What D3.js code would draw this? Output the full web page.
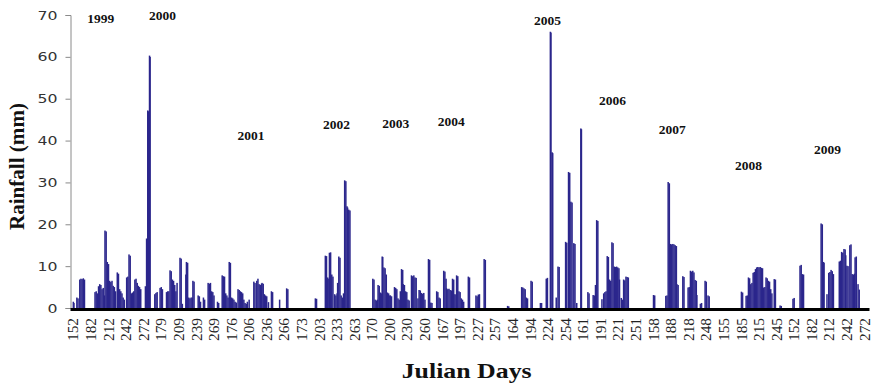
<!DOCTYPE html>
<html lang="en">
<head>
  <meta charset="UTF-8">
  <style>
    body { margin: 0; background: #fff; }
    .bar { fill: #2b268c; }
    .y-axis text { font-family: "DejaVu Sans", sans-serif; font-size: 12.5px; fill: #333; }
    .x-axis text { font-family: "Liberation Serif", serif; font-size: 14px; fill: #222; }
    .title { font-family: "Liberation Serif", serif; font-weight: bold; font-size: 21px; fill: #111; }
    .year { font-family: "Liberation Serif", serif; font-weight: bold; font-size: 13px; fill: #111; }
  </style>
</head>
<body>
  <svg class="chart"></svg>
  <script src="https://cdnjs.cloudflare.com/ajax/libs/d3/7.8.5/d3.min.js"></script>
  <script>
    // monsoon season, Julian day 152 - 274 for every year
    const years = [1999, 2000, 2001, 2002, 2003, 2004, 2005, 2006, 2007, 2008, 2009]
    const firstDay = 152
    const lastDay = 274
    const tickEvery = 30
    const yTicks = [0, 10, 20, 30, 40, 50, 60, 70]

    // [julian day, rainfall mm], days without rain left out
    const rain1999 = [[152,1.5],[153,1.2],[158,2.5],[160,2.3],[163,6.8],[165,7],[167,6.9],[169,7.1],[171,6.8],
      [189,3.8],[191,4],[193,3.5],[195,5.2],[197,5.7],[199,5.5],[201,4.5],[203,4.8],[205,3],
      [206,18.5],[208,18.3],[210,11],[212,10.5],[214,6.5],[216,6.2],[218,6.5],[220,5.3],[222,5],[224,4],
      [227,8.5],[229,8.2],[231,4.5],[233,4],[235,3.5],[237,2.5],[239,2],[243,7.3],[245,7.5],[247,12.8],[249,12.5],
      [251,3.5],[253,3.7],[255,4],[257,6.8],[259,7],[261,6],[263,5.3],[265,5],[267,4.5]]
    const rain2000 = [[152,5.2],[154,16.6],[155,16.5],[156,47.2],[157,47],[159,60.3],[160,60],
      [168,3.3],[170,3.6],[172,3.8],[177,4.8],[179,5],[181,4.5],[188,3.8],[190,4],[192,4],
      [194,9],[196,8.8],[198,6.8],[200,6.5],[202,5.5],[204,4],[206,6],[211,12],[213,11.8],[215,1],
      [221,8],[222,11],[224,10.8],[226,2.5],[228,2.3],[230,2.5],[232,2.5],[233,6.5],[235,6.3],
      [242,3],[244,2.8],[246,1.5],[251,2.5],[253,2],[259,6],[261,5.8],[263,6],[265,4],[267,3.8],[269,3]]
    const rain2001 = [[152,1.5],[154,1.2],[160,7.8],[162,7.6],[164,7.5],[166,3.5],[168,3],[170,2.5],[172,11],[174,10.8],
      [176,2.5],[178,2.3],[180,2],[182,1.5],[184,1.3],[187,4.5],[189,4.3],[191,4],[193,3.8],[195,3.5],[197,2],
      [199,1.2],[201,1],[203,1.5],[206,2],[214,6.3],[216,6],[219,6.5],[221,7],[223,5.7],[225,5.5],[227,5.8],
      [228,6],[230,5.8],[232,3.3],[234,3],[236,2.8],[239,1.4],[244,4],[246,3.8],[258,2],[270,4.7],[272,4.5]]
    const rain2002 = [[196,2.3],[198,2.2],[213,12.5],[215,12.4],[217,7.3],[219,7],[220,13.2],[222,13.3],[224,8],[226,7.5],
      [229,3.3],[231,3],[233,3.5],[234,6],[236,12.3],[238,12],[240,3],[242,2.5],[244,3.5],
      [246,30.5],[248,30.3],[250,24.3],[251,24],[253,23.5],[255,23.3]]
    const rain2003 = [[171,7],[173,6.8],[175,2],[177,1.8],[179,2],[180,5.5],[182,5.3],[184,3.7],[186,3.5],[187,12.3],[188,12.2],
      [190,9.7],[192,9.5],[194,8],[196,3.7],[198,3.5],[200,3],[201,3],[203,2.8],[208,5],[210,4.8],[212,4.5],
      [214,2.3],[216,2],[218,4],[220,9.3],[222,9.1],[223,5.7],[225,5.5],[227,4],[229,3.8],[231,2],[233,1.8],
      [237,7.8],[239,7.6],[241,7.8],[243,7.3],[245,7.2],[248,2.3],[250,4.3],[252,4.2],[254,3.6],[256,3.4],[258,3.6],
      [260,2],[266,11.7],[268,11.5],[270,1.3],[272,1.2]]
    const rain2004 = [[157,4],[159,3.8],[161,2.5],[163,2.3],[169,8.9],[171,8.7],[173,7],[174,4.7],[176,4.5],[178,4.6],
      [180,4.3],[182,4.2],[184,7],[186,6.8],[188,3.3],[190,3.2],[191,7.8],[193,7.6],[195,4],[197,3.8],
      [199,2.3],[201,2],[203,1.5],[211,7.5],[213,7.3],[224,3],[226,2.8],[228,3.2],[230,3.3],[238,11.7],[240,11.5]]
    const rain2005 = [[155,0.5],[157,0.4],[179,5],[181,4.9],[183,4.7],[185,4.5],[187,2.5],[189,2.3],[195,6.5],[197,6.3],
      [211,1.2],[213,1.2],[221,7],[223,7.2],[228,66],[229,65.8],[231,37.2],[232,37],
      [238,2.5],[241,9.9],[243,9.8],[254,15.8],[256,15.6],[259,32.5],[261,32.3],[263,25.4],[265,25.2],
      [268,15.5],[270,15.3],[273,1.2]]
    const rain2006 = [[157,42.9],[158,42.7],[169,3.8],[171,3.5],[178,3.1],[180,3],[182,5.5],[184,21],[186,20.8],
      [193,2.1],[196,3.5],[198,3.8],[200,4],[202,12.4],[204,12.2],[206,6.8],[208,6.5],[210,15.7],[212,15.5],
      [214,9.9],[216,9.8],[218,9.9],[220,9.7],[222,9.5],[223,6.8],[226,2.4],[228,2],[230,6.8],[232,6.6],
      [234,7.5],[236,7.4],[238,7.3]]
    const rain2007 = [[158,3.1],[160,3],[179,2.9],[181,3],[183,30.1],[185,29.8],[187,15.3],[189,15.2],[191,15.3],[193,15.2],
      [195,15],[197,14.8],[198,5.7],[200,5.5],[208,7.6],[210,7.4],[217,4.9],[219,5],[221,8.9],[223,8.7],
      [225,8.9],[227,8.5],[229,6.7],[231,6.5],[232,3.1],[238,1],[240,1.2],[246,6.5],[248,6.3],[251,3],[253,2.8]]
    const rain2008 = [[185,3.9],[187,3.7],[193,2.9],[195,3],[197,7.3],[199,7.1],[201,5.7],[203,6],[205,8.4],[207,8.6],
      [209,9.3],[211,9.7],[213,9.8],[215,9.7],[217,9.8],[219,9.6],[221,9.5],[223,4.9],[225,5],[227,7.3],[229,7.1],
      [231,6.5],[233,6.3],[235,4.5],[237,3.5],[241,6.9],[243,6.8],[251,0.6],[253,0.5],[273,2.2]]
    const rain2009 = [[152,2.4],[162,10.1],[164,10.3],[166,8.1],[168,8],[198,20.2],[200,20],[202,11],[203,10.8],[208,3.3],
      [211,8.4],[213,8.6],[215,9.1],[217,8.8],[219,8.1],[229,11.1],[231,11.3],[233,13.4],[235,13.2],[237,14.1],[239,14],
      [240,12.6],[242,10.1],[244,10],[247,15],[249,15.2],[251,8.1],[253,8],[255,8.2],[256,12.1],[258,12.3],[261,5.7],[263,4.4]]
    const rainByYear = [rain1999, rain2000, rain2001, rain2002, rain2003, rain2004,
      rain2005, rain2006, rain2007, rain2008, rain2009]

    // where each year label sits, in chart units (day of that year, mm)
    const yearLabelDay = [199, 181, 209, 232, 210, 182, 223, 211, 190, 197, 209]
    const yearLabelMm = [68.2, 68.8, 40.1, 42.8, 43.0, 43.4, 67.7, 48.4, 41.5, 32.9, 36.9]

    const chart = { width: 880, height: 384 }
    const barW = 1.5

    const keys = []
    years.forEach(yr => {
      for (let d = firstDay; d <= lastDay; d++) keys.push(yr + '-' + d)
    })

    const x = d3.scaleBand().domain(keys).range([70, 869]).paddingOuter(5.2)
    const y = d3.scaleLinear().domain([0, 70]).range([308, 15])

    const svg = d3.select('.chart')
      .attr('width', chart.width)
      .attr('height', chart.height)

    const bars = []
    rainByYear.forEach((arr, k) => {
      arr.forEach(([day, mm]) => bars.push({ key: years[k] + '-' + day, mm: mm }))
    })

    svg.selectAll('rect.bar')
      .data(bars)
      .enter().append('rect')
        .attr('class', 'bar')
        .attr('x', d => x(d.key) + x.bandwidth() / 2 - barW / 2)
        .attr('y', d => y(d.mm))
        .attr('width', barW)
        .attr('height', d => y(0) - y(d.mm))

    // y axis
    const gy = svg.append('g')
      .attr('class', 'y-axis')
      .attr('transform', 'translate(70.5,0)')
      .call(d3.axisLeft(y).tickValues(yTicks).tickSize(5).tickPadding(8))
    gy.select('.domain').attr('stroke', '#8a8a8a')
    gy.selectAll('.tick line').attr('stroke', '#8a8a8a')
    gy.selectAll('.tick text')
      .attr('textLength', d => String(d).length * 10)
      .attr('lengthAdjust', 'spacingAndGlyphs')

    // x axis, thick black baseline, labels every 30 days
    const gx = svg.append('g')
      .attr('class', 'x-axis')
      .attr('transform', 'translate(0,309)')
      .call(d3.axisBottom(x)
        .tickValues(keys.filter((k, i) => i % tickEvery === 0))
        .tickFormat(k => k.split('-')[1])
        .tickSize(0))
    gx.select('.domain').attr('stroke', '#000').attr('stroke-width', 3)
    gx.selectAll('.tick text')
      .attr('transform', 'rotate(-90)')
      .attr('x', -9)
      .attr('y', 0)
      .attr('dy', '0.35em')
      .attr('text-anchor', 'end')
      .attr('textLength', 23)
      .attr('lengthAdjust', 'spacingAndGlyphs')

    // year labels
    svg.selectAll('text.year')
      .data(years)
      .enter().append('text')
        .attr('class', 'year')
        .attr('x', (yr, i) => x(yr + '-' + yearLabelDay[i]) + x.bandwidth() / 2)
        .attr('y', (yr, i) => y(yearLabelMm[i]))
        .attr('text-anchor', 'middle')
        .attr('textLength', 27)
        .attr('lengthAdjust', 'spacingAndGlyphs')
        .text(d => d)

    // axis titles
    svg.append('text')
      .attr('class', 'title')
      .attr('transform', 'translate(24,166.5) rotate(-90)')
      .attr('text-anchor', 'middle')
      .attr('textLength', 127)
      .attr('lengthAdjust', 'spacingAndGlyphs')
      .text('Rainfall (mm)')

    svg.append('text')
      .attr('class', 'title')
      .attr('x', 466.7)
      .attr('y', 378)
      .attr('text-anchor', 'middle')
      .attr('textLength', 130)
      .attr('lengthAdjust', 'spacingAndGlyphs')
      .text('Julian Days')
  </script>
</body>
</html>
